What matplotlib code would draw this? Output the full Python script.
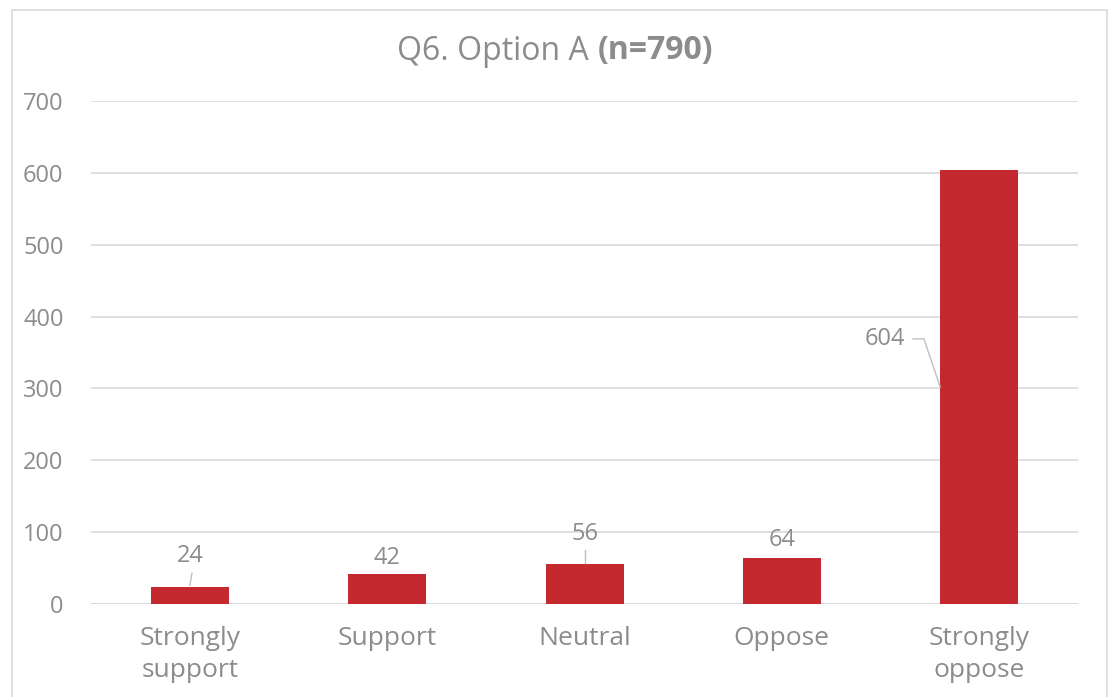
import matplotlib
matplotlib.use("Agg")
import matplotlib.pyplot as plt
from matplotlib.patches import Rectangle

categories = ["Strongly\nsupport", "Support", "Neutral", "Oppose", "Strongly\noppose"]
counts = [24, 42, 56, 64, 604]
y_ticks = [0, 100, 200, 300, 400, 500, 600, 700]

bar_color = "#C3292E"
text_color = "#8C8C8C"
grid_color = "#D9D9D9"
leader_color = "#BFBFBF"

plt.rcParams["font.family"] = ["Open Sans", "DejaVu Sans"]

W, H = 1110, 697
fig = plt.figure(figsize=(W / 100, H / 100), dpi=100)
ax = fig.add_axes([91.3 / W, 1 - 604 / H, 986.5 / W, (604 - 101) / H])

x = list(range(len(categories)))
ax.bar(x, counts, width=0.395, color=bar_color, zorder=3)

ax.set_xlim(-0.5, len(categories) - 0.5)
ax.set_ylim(0, 700)
ax.set_yticks(y_ticks)
ax.set_yticklabels([str(t) for t in y_ticks])
ax.set_xticks(x)
ax.set_xticklabels(categories, linespacing=1.38)
ax.tick_params(axis="both", length=0, colors=text_color)
ax.tick_params(axis="y", pad=20, labelsize=17)
ax.tick_params(axis="x", pad=16, labelsize=19)
ax.grid(axis="y", color=grid_color, linewidth=1.2, zorder=0)
for s in ax.spines.values():
    s.set_visible(False)
ax.axhline(0, color=grid_color, linewidth=1.2, zorder=2)

# value labels with leader lines
lab_kw = dict(color=text_color, fontsize=17, ha="center", va="center", zorder=4)
ax.text(0, 67, str(counts[0]), **lab_kw)
ax.plot([0.01, 0.0], [43, counts[0] + 2], color=leader_color, lw=1, zorder=4)
ax.text(1, 64, str(counts[1]), **lab_kw)
ax.text(2, 98, str(counts[2]), **lab_kw)
ax.plot([2.0, 2.0], [75, counts[2] + 1], color=leader_color, lw=1, zorder=4)
ax.text(3, 89, str(counts[3]), **lab_kw)
ax.text(3.52, 369, str(counts[4]), **lab_kw)
ax.plot([3.665, 3.72, 3.8025], [369, 369, counts[4] / 2],
        color=leader_color, lw=1, zorder=4)

# title: regular text followed by bold sample size, centred as one line
title_y = 1 - 51 / H
t1 = fig.text(0, title_y, "Q6. Option A ", ha="left", va="center",
              color=text_color, fontsize=23)
t2 = fig.text(0, title_y, "(n=790)", ha="left", va="center",
              color=text_color, fontsize=23, fontweight="bold")
renderer = fig.canvas.get_renderer()
w1 = t1.get_window_extent(renderer).width
w2 = t2.get_window_extent(renderer).width
x0 = (W / 2 - (w1 + w2) / 2) / W
t1.set_x(x0)
t2.set_x(x0 + w1 / W)

# chart frame
fig.patches.append(Rectangle((12 / W, -0.05), (1107 - 12) / W, 1.05 - 10 / H,
                             transform=fig.transFigure, fill=False,
                             edgecolor=grid_color, linewidth=1.2))

fig.savefig("out.png", dpi=100)
